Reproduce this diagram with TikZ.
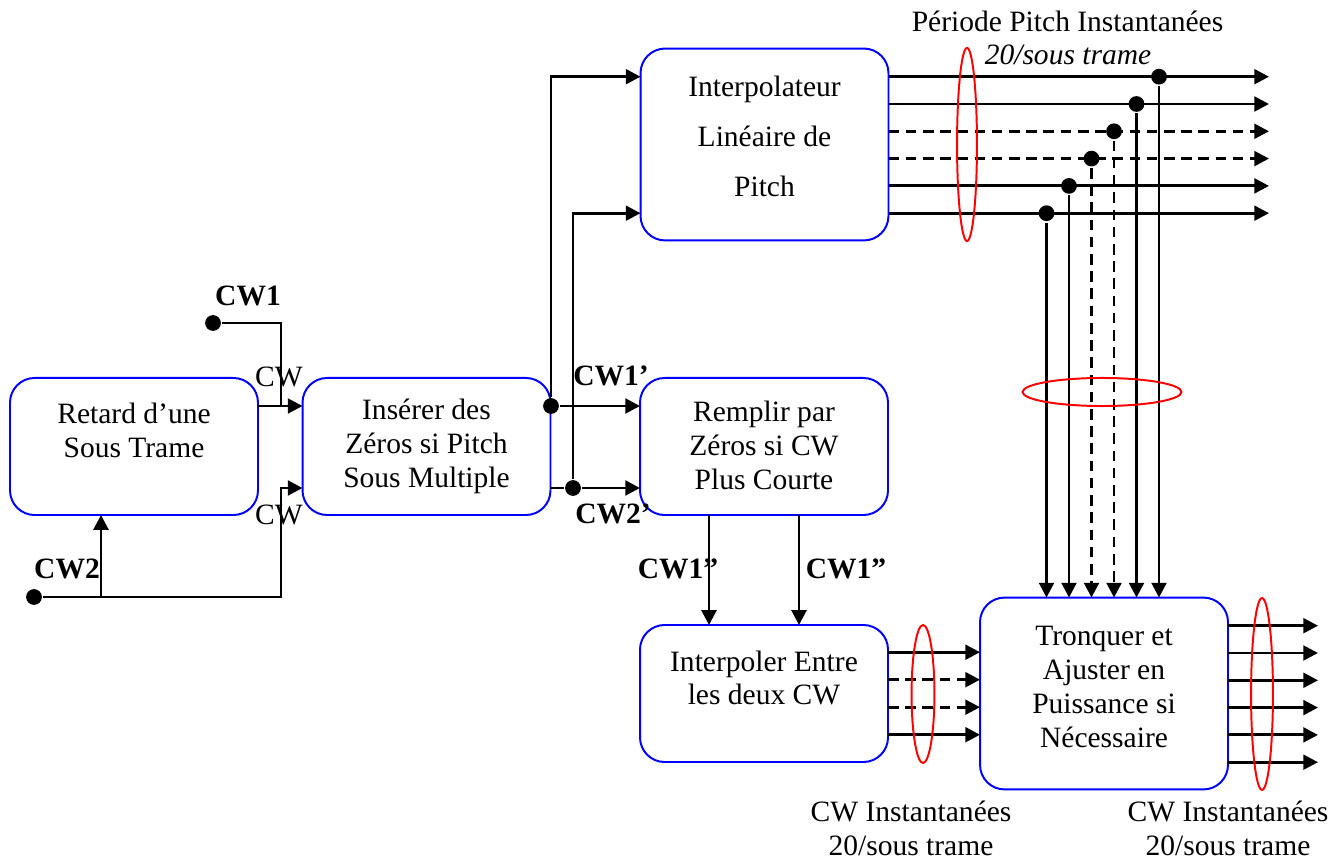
\documentclass[tikz,border=0pt]{standalone}
\usepackage{fontspec}
\setmainfont{Liberation Serif}
\usepackage{tikz}
\usetikzlibrary{arrows.meta,shapes.geometric}

\begin{document}
\begin{tikzpicture}[
  x=0.4065pt, y=-0.4065pt,
  >={Triangle[length=6pt,width=6pt]},
  line width=1.2pt,
  every node/.style={font=\fontsize{12}{13.8}\selectfont},
  pointille/.style={dash pattern=on 4.3pt off 2.7pt},
  bloc/.style={draw=blue, line width=0.8pt, rounded corners=10pt, minimum width=100.8pt, minimum height=55.7pt, inner sep=0pt, outer sep=0pt},
  grand/.style={bloc, minimum height=78pt},
  txt/.style={align=center, inner sep=0pt},
  etiq/.style={font=\fontsize{12}{13.8}\selectfont\bfseries, inner sep=0pt},
  point/.style={circle, fill=black, inner sep=0pt, minimum size=6.4pt},
  ovale/.style={ellipse, draw=red, line width=0.8pt, inner sep=0pt},
]
\useasboundingbox (0,0) rectangle (1333,861);

\node[bloc] (ret) at (134,446.5) {};
\node[bloc] (ins) at (426.5,446.5) {};
\node[grand] (interp) at (764.5,144.5) {};
\node[bloc] (rem) at (764,446.5) {};
\node[bloc] (interpol) at (764,693.5) {};
\node[grand] (tron) at (1104,693.5) {};

\node[txt] (retT) at (134,430) {Retard d'une\\Sous Trame};
\node[txt] (insT) at (426.5,446) {Insérer des\\Zéros si Pitch\\Sous Multiple};
\node[txt] (interpT) at (764.5,136) {Interpolateur\\[6.5pt]Linéaire de\\[6.5pt]Pitch};
\node[txt] (remT) at (764,445) {Remplir par\\Zéros si CW\\Plus Courte};
\node[txt] (interpolT) at (764,678) {Interpoler Entre\\les deux CW};
\node[txt] (tronT) at (1104,687) {Tronquer et\\Ajuster en\\Puissance si\\Nécessaire};

\coordinate (j1) at (281,406);
\coordinate (j2) at (281,488);
\coordinate (j3) at (101,597);
\coordinate (k1) at (709,0);
\coordinate (k2) at (799,0);
\node[point] (cw1) at (213,323) {};
\node[point] (cw2) at (34,597) {};
\node[point] (d1) at (551,406) {};
\node[point] (d2) at (573,488) {};

\foreach \i/\s in {1/solid,2/solid,3/pointille,4/pointille,5/solid,6/solid}{
  \coordinate (r\i) at (888,{49.4+27.3*\i});
  \coordinate (o\i) at (1269,{49.4+27.3*\i});
  \node[point] (p\i) at ({1181.5-22.5*\i},{49.4+27.3*\i}) {};
  \draw[->,\s] (interp.east |- r\i) -- (o\i);
  \draw[->,\s] (p\i) -- (tron.north -| p\i);
}
\foreach \i/\s in {1/solid,2/pointille,3/pointille,4/solid}{
  \coordinate (s\i) at (888,{624.7+27.5*\i});
  \draw[->,\s] (interpol.east |- s\i) -- (tron.west |- s\i);
}
\foreach \i in {1,...,6}{
  \coordinate (t\i) at (1318,{598.4+27.3*\i});
  \draw[->] (tron.east |- t\i) -- (t\i);
}

\draw (ret.east |- j1) -- (j1);
\draw[->] (cw1) -| (j1) -- (ins.west |- j1);
\draw[->] (cw2) -| (j2) -- (ins.west |- j2);
\draw[->] (j3) -- (ret.south -| j3);
\draw[->] (d1) -- (rem.west |- d1);
\draw (ins.east |- d2) -- (d2);
\draw[->] (d2) -- (rem.west |- d2);
\draw[->] (d1) |- (interp.west |- r1);
\draw[->] (d2) |- (interp.west |- r6);
\draw[->] (rem.south -| k1) -- (interpol.north -| k1);
\draw[->] (rem.south -| k2) -- (interpol.north -| k2);

\node[ovale, minimum width=8.1pt, minimum height=78.5pt] (e1) at (967,144.5) {};
\node[ovale, minimum width=64.6pt, minimum height=11.4pt] (e2) at (1102,392) {};
\node[ovale, minimum width=9.3pt, minimum height=56.1pt] (e3) at (923,694) {};
\node[ovale, minimum width=8.9pt, minimum height=78pt] (e4) at (1262,694) {};

\node[etiq] (cw1L) at (248,296) {CW1};
\node[etiq] (cw2L) at (67,569) {CW2};
\node[txt] (cwa) at (279,377) {CW};
\node[txt] (cwb) at (279,515) {CW};
\node[etiq] (cw1pL) at (611,376) {CW1'};
\node[etiq] (cw2pL) at (613,514) {CW2'};
\node[etiq] (cw1ppa) at (678,569) {CW1''};
\node[etiq] (cw1ppb) at (846,569) {CW1''};
\node[txt] (titre) at (1067.5,21) {Période Pitch Instantanées};
\node[txt, font=\fontsize{12}{13.8}\selectfont\itshape] (cadence) at (1068,55) {20/sous trame};
\node[txt] (cwi1) at (911,828) {CW Instantanées\\20/sous trame};
\node[txt] (cwi2) at (1228,828) {CW Instantanées\\20/sous trame};
\end{tikzpicture}
\end{document}
